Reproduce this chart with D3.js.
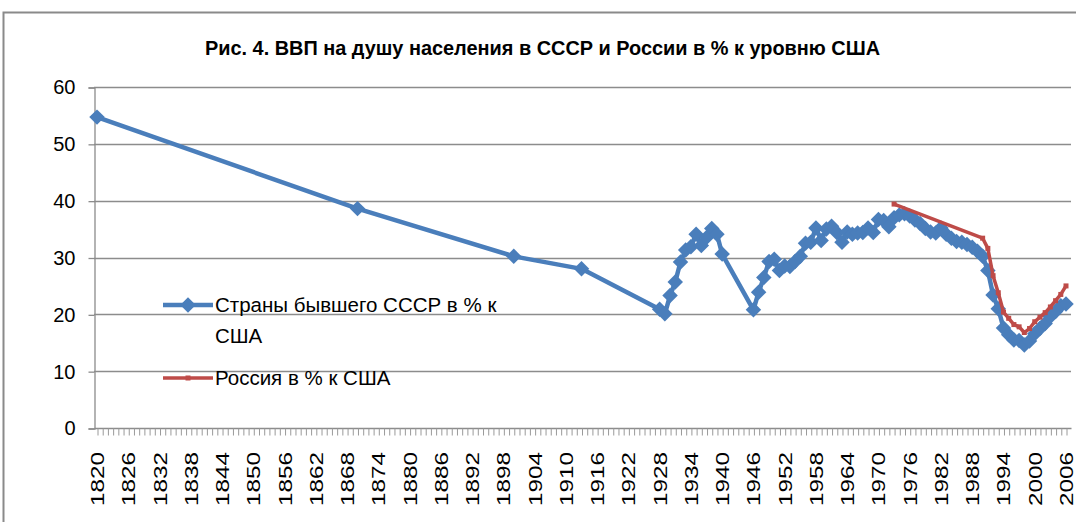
<!DOCTYPE html>
<html>
<head>
<meta charset="utf-8">
<script src="https://cdn.jsdelivr.net/npm/d3@7"></script>
<style>
  body { margin: 0; background: #fff; }
  svg { display: block; }
</style>
</head>
<body>
<div id="chart"></div>
<script>
// Страны бывшего СССР в % к США
const ussrYears = [1820, 1870, 1900, 1913,
    1928, 1929, 1930, 1931, 1932, 1933, 1934, 1935, 1936, 1937, 1938, 1939, 1940,
    1946, 1947, 1948, 1949, 1950, 1951, 1952, 1953, 1954, 1955, 1956, 1957, 1958, 1959,
    1960, 1961, 1962, 1963, 1964, 1965, 1966, 1967, 1968, 1969,
    1970, 1971, 1972, 1973, 1974, 1975, 1976, 1977, 1978, 1979,
    1980, 1981, 1982, 1983, 1984, 1985, 1986, 1987, 1988, 1989,
    1990, 1991, 1992, 1993, 1994, 1995, 1996, 1997, 1998, 1999,
    2000, 2001, 2002, 2003, 2004, 2005, 2006];
const ussrValues = [54.7, 38.6, 30.2, 28.0,
    20.9, 20.1, 23.3, 25.7, 29.2, 31.3, 31.9, 34.1, 32.1, 33.5, 35.1, 34.1, 30.6,
    20.8, 23.9, 26.5, 29.3, 29.7, 27.7, 28.5, 28.4, 29.3, 30.2, 32.5, 32.7, 35.2, 33.0,
    35.0, 35.5, 34.4, 32.7, 34.5, 34.1, 34.3, 34.4, 35.2, 34.4,
    36.7, 36.5, 35.4, 37.0, 37.5, 37.7, 37.3, 36.6, 36.0, 35.1,
    34.5, 34.3, 35.2, 34.1, 33.4, 32.8, 32.7, 32.3, 31.8, 31.1,
    30.2, 27.7, 23.4, 21.0, 17.6, 16.4, 15.5, 15.4, 14.6, 15.3,
    16.6, 17.5, 18.4, 19.6, 20.5, 21.5, 21.8];

// Россия в % к США
const russiaYears = [1973, 1990, 1991, 1992, 1993, 1994, 1995, 1996, 1997, 1998, 1999,
    2000, 2001, 2002, 2003, 2004, 2005, 2006];
const russiaValues = [39.4, 33.4, 31.6, 26.8, 23.8, 20.4, 19.3, 18.2, 17.8, 16.8, 17.5,
    18.7, 19.5, 20.3, 21.3, 22.4, 23.5, 25.0];

const yTicks = [0, 10, 20, 30, 40, 50, 60];
const firstYear = 1820, lastYear = 2006, labelStep = 6;

const width = 1076, height = 522;
const margin = { top: 87, right: 10, bottom: 94, left: 97 };

const blue = "#4a7ebb", red = "#be4b48", grid = "#8c8c8c";

const svg = d3.select("#chart").append("svg")
    .attr("width", width)
    .attr("height", height);

// рамка области диаграммы
svg.append("rect")
    .attr("x", 3.5).attr("y", 12.5)
    .attr("width", width + 20).attr("height", height + 20)
    .attr("fill", "none")
    .attr("stroke", "#8a8a8a")
    .attr("stroke-width", 2);

svg.append("text")
    .attr("x", 205)
    .attr("y", 55)
    .attr("textLength", 675)
    .attr("lengthAdjust", "spacingAndGlyphs")
    .style("font-family", "'Liberation Sans', sans-serif")
    .style("font-weight", "bold")
    .style("font-size", "21px")
    .text("Рис. 4. ВВП на душу населения в СССР и России в % к уровню США");

const x = d3.scaleLinear()
    .domain([firstYear, lastYear])
    .range([margin.left, 1066]);

const y = d3.scaleLinear()
    .domain([0, 60])
    .range([height - margin.bottom, margin.top]);

const axisX = 94, plotRight = 1071;

// сетка
svg.append("g")
    .selectAll("line")
    .data(yTicks.filter(d => d > 0))
    .join("line")
    .attr("x1", axisX).attr("x2", plotRight)
    .attr("y1", d => Math.round(y(d)) + 0.5)
    .attr("y2", d => Math.round(y(d)) + 0.5)
    .attr("stroke", grid)
    .attr("stroke-width", 1.3);

// ось Y
const yAxis = g => g
    .attr("transform", `translate(${axisX + 0.5},0.5)`)
    .call(d3.axisLeft(y).tickValues(yTicks).tickSize(6).tickPadding(13))
    .call(g => g.select(".domain").attr("stroke", grid).attr("stroke-width", 1.3))
    .call(g => g.selectAll(".tick line").attr("stroke", grid).attr("stroke-width", 1.3))
    .call(g => g.selectAll(".tick text")
        .style("font-family", "'Liberation Sans', sans-serif")
        .style("font-size", "20px")
        .attr("fill", "#000"));

svg.append("g").call(yAxis);

// ось X: метка каждого года, подпись каждого шестого
const allYears = d3.range(firstYear, lastYear + 1);
const labelYears = allYears.filter(d => (d - firstYear) % labelStep === 0);

const xAxis = g => g
    .attr("transform", `translate(0.5,${Math.round(y(0)) + 0.5})`)
    .call(d3.axisBottom(x).tickValues(allYears).tickSize(7).tickFormat(""))
    .call(g => g.select(".domain").attr("d", `M${axisX},0H${plotRight}`)
        .attr("stroke", grid).attr("stroke-width", 1.3))
    .call(g => g.selectAll(".tick line").attr("stroke", "#9a9a9a").attr("stroke-width", 1));

svg.append("g").call(xAxis);

svg.append("g")
    .selectAll("text")
    .data(labelYears)
    .join("text")
    .attr("transform", d => `translate(${x(d) + 7},${y(0) + 24}) rotate(-90)`)
    .attr("text-anchor", "end")
    .attr("textLength", 54)
    .attr("lengthAdjust", "spacingAndGlyphs")
    .style("font-family", "'Liberation Sans', sans-serif")
    .style("font-size", "18px")
    .text(d => d);

// линии
const ussr = ussrYears.map((d, i) => ({ year: d, value: ussrValues[i] }));
const russia = russiaYears.map((d, i) => ({ year: d, value: russiaValues[i] }));

const line = d3.line()
    .x(d => x(d.year))
    .y(d => y(d.value));

svg.append("path")
    .datum(ussr)
    .attr("fill", "none")
    .attr("stroke", blue)
    .attr("stroke-width", 4.5)
    .attr("stroke-linejoin", "round")
    .attr("d", line);

const diamond = d3.symbol(d3.symbolSquare, 120);

svg.append("g")
    .selectAll("path")
    .data(ussr)
    .join("path")
    .attr("transform", d => `translate(${x(d.year)},${y(d.value)}) rotate(45)`)
    .attr("d", diamond)
    .attr("fill", blue);

svg.append("path")
    .datum(russia)
    .attr("fill", "none")
    .attr("stroke", red)
    .attr("stroke-width", 3.5)
    .attr("stroke-linejoin", "round")
    .attr("d", line);

const square = d3.symbol(d3.symbolSquare, 25);

svg.append("g")
    .selectAll("path")
    .data(russia)
    .join("path")
    .attr("transform", d => `translate(${x(d.year)},${y(d.value)})`)
    .attr("d", square)
    .attr("fill", red);

// легенда
const legend = svg.append("g")
    .style("font-family", "'Liberation Sans', sans-serif")
    .style("font-size", "20.5px");

const lg1 = legend.append("g").attr("transform", "translate(163,305)");
lg1.append("line").attr("x1", 0).attr("x2", 50)
    .attr("stroke", blue).attr("stroke-width", 4.5);
lg1.append("path").attr("transform", "translate(25,0) rotate(45)")
    .attr("d", diamond).attr("fill", blue);
lg1.append("text").attr("x", 52).attr("y", 7).text("Страны бывшего СССР в % к");
lg1.append("text").attr("x", 52).attr("y", 38).text("США");

const lg2 = legend.append("g").attr("transform", "translate(163,378)");
lg2.append("line").attr("x1", 0).attr("x2", 50)
    .attr("stroke", red).attr("stroke-width", 3.5);
lg2.append("path").attr("transform", "translate(25,0)")
    .attr("d", square).attr("fill", red);
lg2.append("text").attr("x", 52).attr("y", 7).text("Россия в % к США");
</script>
</body>
</html>
